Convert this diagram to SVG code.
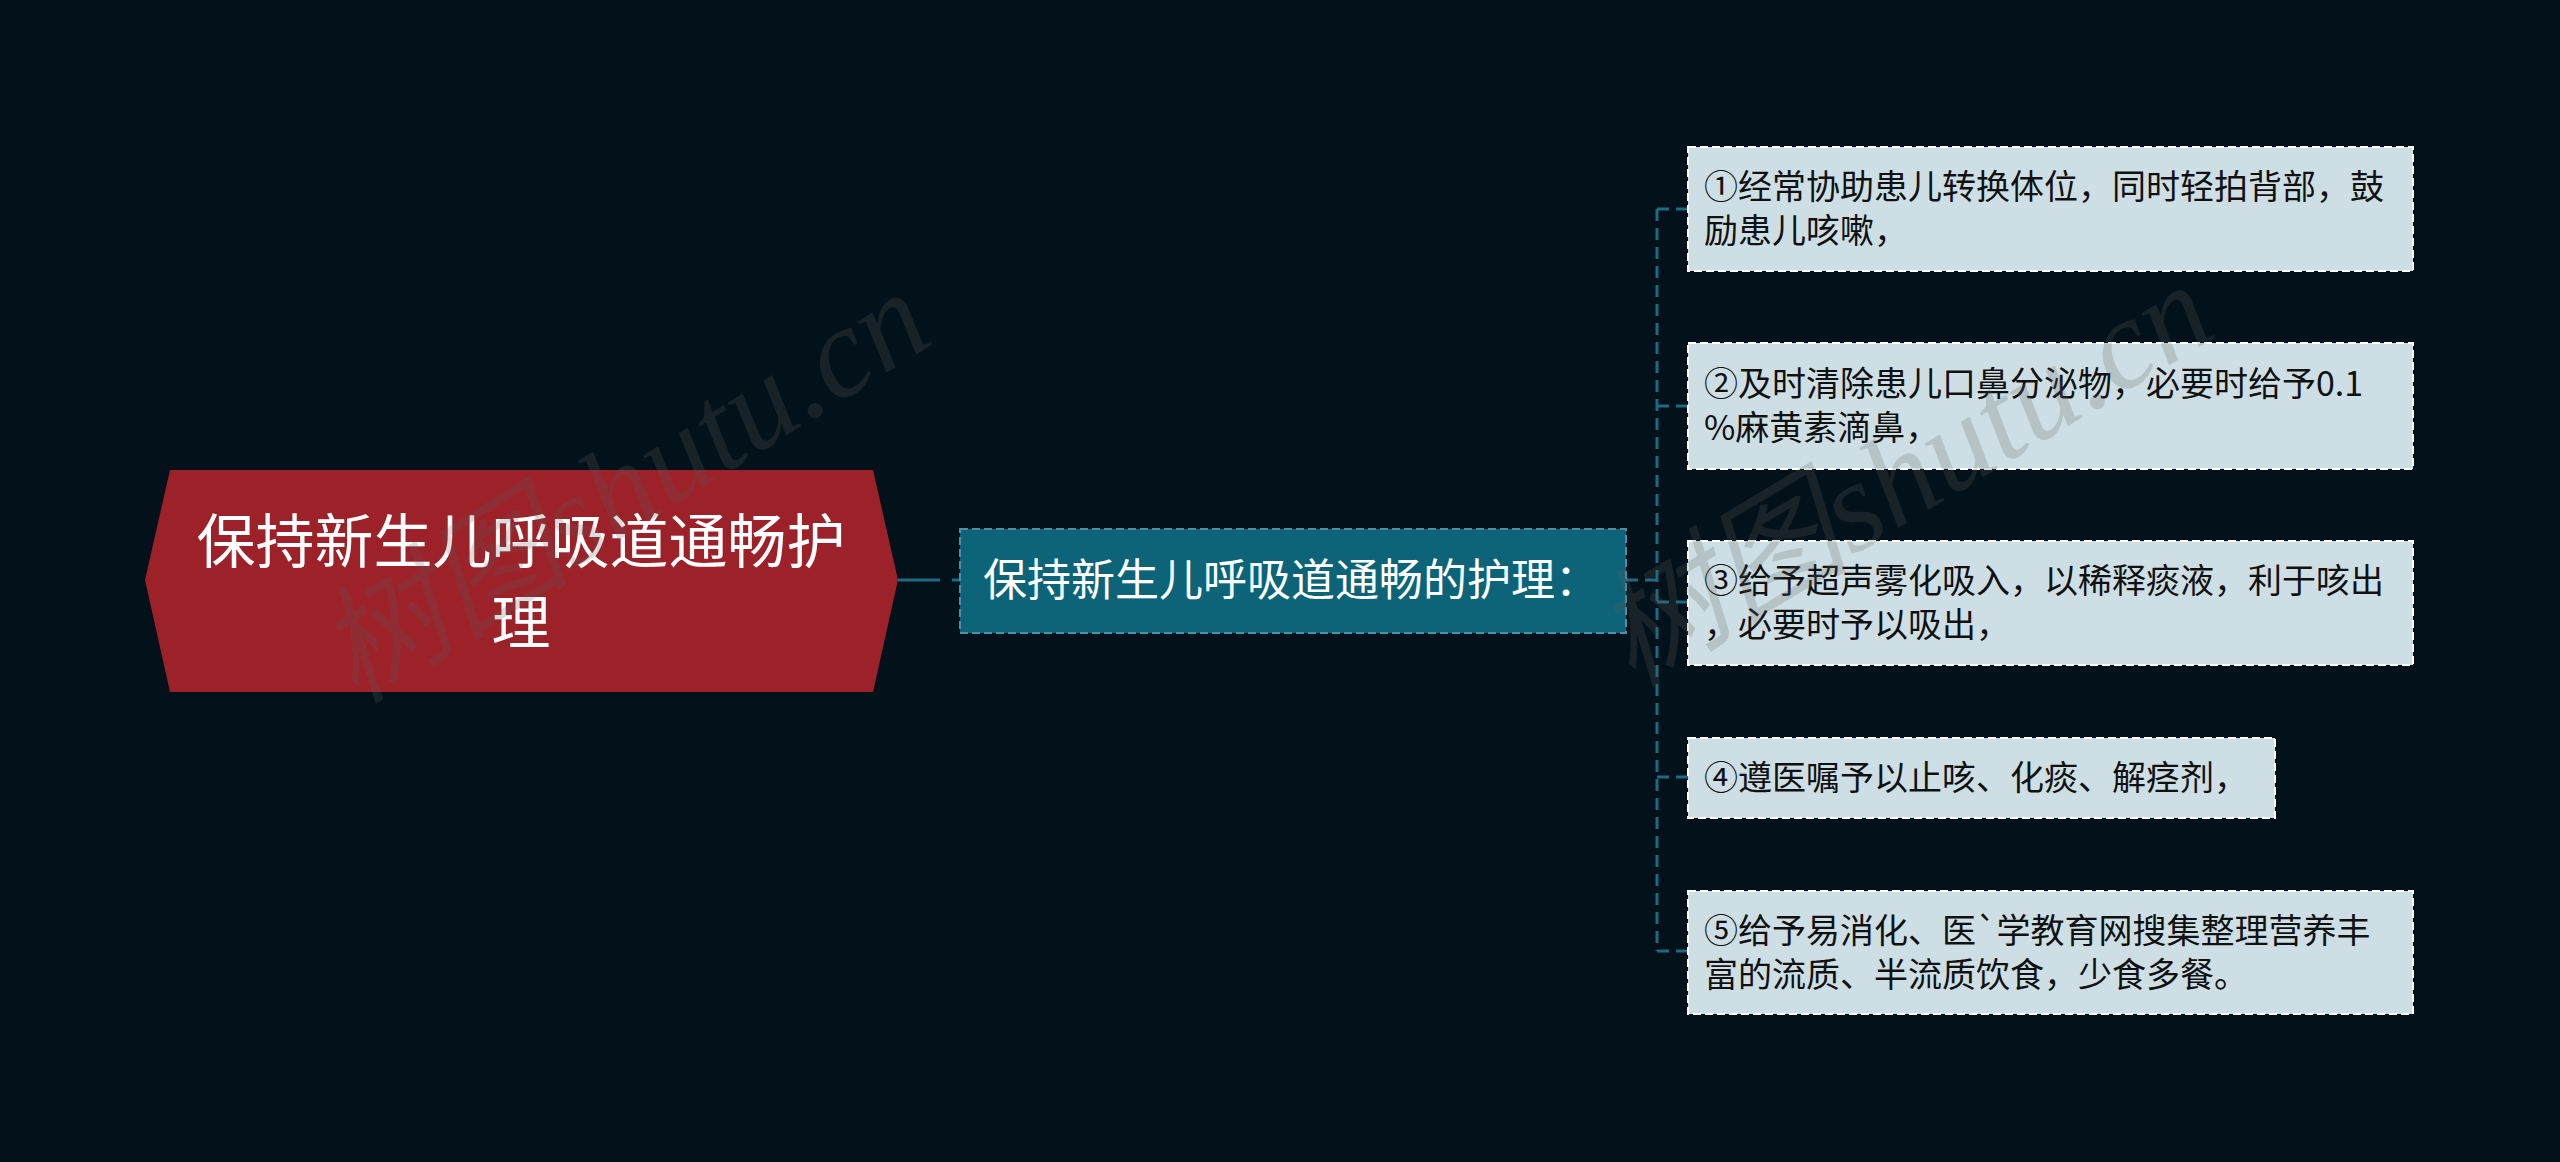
<svg xmlns="http://www.w3.org/2000/svg" width="2560" height="1162" viewBox="0 0 2560 1162">
<style>
.bg{fill:#03111a}
.cjk{font-family:"Noto Sans CJK SC","Noto Sans",sans-serif}
.root-shape{fill:#9c2128}
.root-text{fill:#ffffff;font-size:59px}
.mid-shape{fill:#0d6478;stroke:#4d8fa3;stroke-width:2;stroke-dasharray:8 4}
.mid-text{fill:#ffffff;font-size:44px}
.leaf-shape{fill:#cddfe4;stroke:#ffffff;stroke-width:2;stroke-dasharray:8 4}
.leaf-text{fill:#111111;font-size:34px}
.conn{fill:none;stroke:#1e6a80;stroke-width:3;stroke-dasharray:12 7}
.wm{fill:#5e5e5e;fill-opacity:0.22;font-size:128px;font-style:italic;font-family:"Liberation Serif","Noto Sans CJK SC",serif}
</style>
<rect class="bg" x="0" y="0" width="2560" height="1162"/>

<g id="connectors">
  <path class="conn" d="M898,580 H960" style="stroke-dasharray:42 12"/>
  <path class="conn" d="M1626,580 H1657"/>
  <path class="conn" d="M1657,209 V951"/>
  <path class="conn" d="M1657,209 H1688"/>
  <path class="conn" d="M1657,406 H1688"/>
  <path class="conn" d="M1657,602 H1688"/>
  <path class="conn" d="M1657,777 H1688"/>
  <path class="conn" d="M1657,951 H1688"/>
</g>

<g id="root">
  <polygon class="root-shape" points="145,580 170,470 873,470 898,580 873,692 170,692"/>
  <text class="cjk root-text" text-anchor="middle" x="521" y="563">保持新生儿呼吸道通畅护</text>
  <text class="cjk root-text" text-anchor="middle" x="521" y="644">理</text>
</g>

<g id="mid">
  <rect class="mid-shape" x="960" y="529" width="666" height="104"/>
  <text class="cjk mid-text" x="983" y="596">保持新生儿呼吸道通畅的护理：</text>
</g>

<g id="leaf1">
  <rect class="leaf-shape" x="1688" y="147" width="725" height="124"/>
  <text class="cjk leaf-text" x="1704" y="199">①经常协助患儿转换体位，同时轻拍背部，鼓</text>
  <text class="cjk leaf-text" x="1704" y="243">励患儿咳嗽，</text>
</g>

<g id="leaf2">
  <rect class="leaf-shape" x="1688" y="343" width="725" height="126"/>
  <text class="cjk leaf-text" x="1704" y="396">②及时清除患儿口鼻分泌物，必要时给予0.1</text>
  <text class="cjk leaf-text" x="1704" y="440">%麻黄素滴鼻，</text>
</g>

<g id="leaf3">
  <rect class="leaf-shape" x="1688" y="541" width="725" height="124"/>
  <text class="cjk leaf-text" x="1704" y="593">③给予超声雾化吸入，以稀释痰液，利于咳出</text>
  <text class="cjk leaf-text" x="1704" y="637">，必要时予以吸出，</text>
</g>

<g id="leaf4">
  <rect class="leaf-shape" x="1688" y="738" width="587" height="80"/>
  <text class="cjk leaf-text" x="1704" y="790">④遵医嘱予以止咳、化痰、解痉剂，</text>
</g>

<g id="leaf5">
  <rect class="leaf-shape" x="1688" y="891" width="725" height="123"/>
  <text class="cjk leaf-text" x="1704" y="943">⑤给予易消化、医`学教育网搜集整理营养丰</text>
  <text class="cjk leaf-text" x="1704" y="987">富的流质、半流质饮食，少食多餐。</text>
</g>

<g id="watermarks">
  <text class="wm" transform="translate(355,705) rotate(-32)">树图shutu.cn</text>
  <text class="wm" transform="translate(1632,688) rotate(-31)">树图shutu.cn</text>
</g>
</svg>
